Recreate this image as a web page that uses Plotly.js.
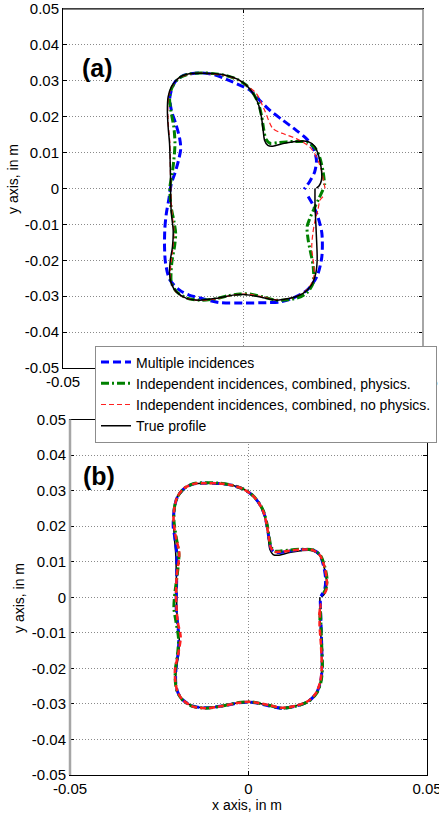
<!DOCTYPE html>
<html>
<head>
<meta charset="utf-8">
<script src="https://cdn.plot.ly/plotly-3.0.1.min.js"></script>
<style>html,body{margin:0;padding:0;background:#fff;}#chart{width:439px;height:814px;}</style>
</head>
<body>
<div id="chart"></div>
<script>
// ---------- data (metres) ----------
const seriesNames = ['Multiple incidences', 'Independent incidences, combined, physics.', 'Independent incidences, combined, no physics.', 'True profile'];
const yTickVals = [-0.05, -0.04, -0.03, -0.02, -0.01, 0, 0.01, 0.02, 0.03, 0.04, 0.05];
const yTickText = ['-0.05', '-0.04', '-0.03', '-0.02', '-0.01', '0', '0.01', '0.02', '0.03', '0.04', '0.05'];
const xTickVals = [-0.05, 0, 0.05];
const xTickText = ['-0.05', '0', '0.05'];
const panelLabels = ['(a)', '(b)'];

const trueProfile = [
  [0.0200,0.0000],[0.0200,-0.0040],[0.0201,-0.0070],[0.0204,-0.0135],[0.0206,-0.0200],[0.0202,-0.0237],
  [0.0190,-0.0269],[0.0167,-0.0292],[0.0130,-0.0306],[0.0093,-0.0311],[0.0056,-0.0304],[0.0019,-0.0297],
  [0.0000,-0.0295],[-0.0028,-0.0297],[-0.0074,-0.0306],[-0.0120,-0.0311],[-0.0157,-0.0306],[-0.0185,-0.0288],
  [-0.0199,-0.0265],[-0.0204,-0.0237],[-0.0202,-0.0200],[-0.0196,-0.0163],[-0.0194,-0.0116],[-0.0199,-0.0070],
  [-0.0201,-0.0023],[-0.0201,0.0014],[-0.0202,0.0060],[-0.0204,0.0125],[-0.0208,0.0172],[-0.0210,0.0218],
  [-0.0208,0.0255],[-0.0199,0.0283],[-0.0180,0.0307],[-0.0153,0.0319],[-0.0120,0.0321],[-0.0083,0.0320],
  [-0.0046,0.0315],[-0.0014,0.0304],[0.0009,0.0288],[0.0028,0.0265],[0.0042,0.0237],[0.0051,0.0200],
  [0.0056,0.0162],[0.0060,0.0134],[0.0069,0.0120],[0.0083,0.0118],[0.0111,0.0125],[0.0148,0.0131],
  [0.0180,0.0131],[0.0199,0.0118],[0.0211,0.0088],[0.0218,0.0051],[0.0218,0.0023],[0.0211,0.0007],[0.0204,0.0001]
];

// panel (a)
const multiA = [
  [0.0181,-0.0022],[0.0194,-0.0045],[0.0208,-0.0079],[0.0219,-0.0124],[0.0219,-0.0190],[0.0205,-0.0246],
  [0.0178,-0.0283],[0.0139,-0.0305],[0.0103,-0.0316],[0.0066,-0.0318],[0.0000,-0.0319],[-0.0064,-0.0318],
  [-0.0119,-0.0305],[-0.0150,-0.0297],[-0.0176,-0.0283],[-0.0203,-0.0255],[-0.0215,-0.0209],[-0.0218,-0.0162],
  [-0.0217,-0.0110],[-0.0213,-0.0070],[-0.0206,-0.0030],[-0.0199,0.0014],[-0.0190,0.0040],[-0.0180,0.0075],
  [-0.0173,0.0110],[-0.0176,0.0140],[-0.0186,0.0178],[-0.0199,0.0218],[-0.0203,0.0255],[-0.0190,0.0295],
  [-0.0165,0.0315],[-0.0120,0.0322],[-0.0080,0.0317],[-0.0046,0.0304],[-0.0009,0.0288],[0.0019,0.0274],
  [0.0046,0.0246],[0.0074,0.0218],[0.0111,0.0190],[0.0148,0.0162],[0.0176,0.0139],[0.0194,0.0116],
  [0.0204,0.0079],[0.0199,0.0046],[0.0185,0.0019],[0.0170,-0.0002]
];
const physA = [
  [0.0222,-0.0004],[0.0210,-0.0030],[0.0200,-0.0051],[0.0185,-0.0085],[0.0178,-0.0107],[0.0181,-0.0143],
  [0.0195,-0.0218],[0.0195,-0.0263],[0.0180,-0.0288],[0.0160,-0.0302],[0.0125,-0.0310],[0.0093,-0.0311],
  [0.0056,-0.0302],[0.0019,-0.0294],[-0.0008,-0.0294],[-0.0040,-0.0298],[-0.0074,-0.0307],[-0.0120,-0.0311],
  [-0.0157,-0.0305],[-0.0185,-0.0287],[-0.0199,-0.0262],[-0.0200,-0.0237],[-0.0197,-0.0200],[-0.0190,-0.0160],
  [-0.0187,-0.0125],[-0.0192,-0.0090],[-0.0200,-0.0050],[-0.0203,0.0004],[-0.0197,0.0040],[-0.0192,0.0080],
  [-0.0189,0.0126],[-0.0192,0.0170],[-0.0200,0.0215],[-0.0204,0.0255],[-0.0196,0.0284],[-0.0178,0.0307],
  [-0.0150,0.0319],[-0.0118,0.0322],[-0.0082,0.0320],[-0.0046,0.0314],[-0.0014,0.0303],[0.0010,0.0287],
  [0.0029,0.0264],[0.0043,0.0236],[0.0052,0.0200],[0.0058,0.0162],[0.0064,0.0137],[0.0075,0.0126],
  [0.0100,0.0128],[0.0140,0.0131],[0.0178,0.0129],[0.0200,0.0113],[0.0212,0.0090],[0.0222,0.0050],[0.0227,0.0010]
];
const noPhysA = [
  [0.0222,-0.0023],[0.0214,-0.0032],[0.0208,-0.0060],[0.0200,-0.0090],[0.0194,-0.0125],[0.0191,-0.0165],
  [0.0196,-0.0209],[0.0198,-0.0240],[0.0188,-0.0268],[0.0166,-0.0292],[0.0130,-0.0306],[0.0093,-0.0310],
  [0.0056,-0.0302],[0.0019,-0.0295],[0.0000,-0.0294],[-0.0028,-0.0297],[-0.0074,-0.0307],[-0.0120,-0.0312],
  [-0.0157,-0.0306],[-0.0185,-0.0289],[-0.0199,-0.0264],[-0.0202,-0.0237],[-0.0199,-0.0200],[-0.0194,-0.0160],
  [-0.0192,-0.0116],[-0.0197,-0.0070],[-0.0200,-0.0023],[-0.0201,0.0014],[-0.0202,0.0060],[-0.0203,0.0125],
  [-0.0207,0.0172],[-0.0209,0.0218],[-0.0207,0.0255],[-0.0198,0.0283],[-0.0180,0.0306],[-0.0153,0.0318],
  [-0.0120,0.0321],[-0.0083,0.0319],[-0.0046,0.0314],[-0.0014,0.0303],[0.0010,0.0287],[0.0037,0.0265],
  [0.0060,0.0218],[0.0083,0.0167],[0.0111,0.0153],[0.0148,0.0139],[0.0185,0.0116],[0.0204,0.0088],
  [0.0218,0.0050],[0.0225,0.0015],[0.0228,0.0000]
];

// panel (b)
const multiB = [
  [0.0201,-0.0010],[0.0202,-0.0040],[0.0203,-0.0070],[0.0205,-0.0135],[0.0206,-0.0200],[0.0202,-0.0237],
  [0.0190,-0.0270],[0.0167,-0.0293],[0.0130,-0.0307],[0.0093,-0.0312],[0.0056,-0.0305],[0.0019,-0.0297],
  [0.0000,-0.0295],[-0.0028,-0.0297],[-0.0074,-0.0306],[-0.0120,-0.0311],[-0.0157,-0.0306],[-0.0185,-0.0288],
  [-0.0199,-0.0265],[-0.0204,-0.0237],[-0.0203,-0.0200],[-0.0198,-0.0163],[-0.0195,-0.0116],[-0.0199,-0.0070],
  [-0.0203,-0.0023],[-0.0202,0.0014],[-0.0201,0.0060],[-0.0201,0.0125],[-0.0207,0.0172],[-0.0211,0.0200],
  [-0.0207,0.0255],[-0.0198,0.0284],[-0.0179,0.0307],[-0.0153,0.0319],[-0.0120,0.0321],[-0.0083,0.0320],
  [-0.0046,0.0315],[-0.0014,0.0304],[0.0010,0.0288],[0.0029,0.0265],[0.0043,0.0237],[0.0052,0.0200],
  [0.0058,0.0162],[0.0063,0.0138],[0.0072,0.0127],[0.0088,0.0126],[0.0115,0.0130],[0.0150,0.0134],
  [0.0180,0.0133],[0.0199,0.0120],[0.0210,0.0090],[0.0216,0.0052],[0.0214,0.0025],[0.0207,0.0010],[0.0203,0.0003]
];
const physB = [
  [0.0200,-0.0065],[0.0201,-0.0030],[0.0203,-0.0080],[0.0205,-0.0135],[0.0207,-0.0200],[0.0203,-0.0238],
  [0.0191,-0.0270],[0.0168,-0.0293],[0.0131,-0.0307],[0.0093,-0.0312],[0.0056,-0.0304],[0.0019,-0.0296],
  [0.0000,-0.0294],[-0.0028,-0.0296],[-0.0074,-0.0306],[-0.0120,-0.0312],[-0.0157,-0.0307],[-0.0185,-0.0289],
  [-0.0200,-0.0265],[-0.0205,-0.0237],[-0.0205,-0.0205],[-0.0199,-0.0163],[-0.0196,-0.0116],[-0.0203,-0.0070],
  [-0.0209,-0.0030],[-0.0206,0.0014],[-0.0200,0.0060],[-0.0195,0.0120],[-0.0203,0.0172],[-0.0209,0.0218],
  [-0.0207,0.0255],[-0.0198,0.0284],[-0.0179,0.0307],[-0.0152,0.0320],[-0.0120,0.0322],[-0.0083,0.0321],
  [-0.0046,0.0315],[-0.0014,0.0304],[0.0010,0.0288],[0.0030,0.0265],[0.0044,0.0237],[0.0053,0.0200],
  [0.0059,0.0162],[0.0064,0.0140],[0.0074,0.0130],[0.0090,0.0130],[0.0115,0.0133],[0.0150,0.0135],
  [0.0181,0.0133],[0.0201,0.0119],[0.0213,0.0088],[0.0220,0.0051],[0.0217,0.0025],[0.0210,0.0011]
];
const noPhysB = [
  [0.0198,-0.0050],[0.0202,-0.0020],[0.0199,-0.0075],[0.0203,-0.0135],[0.0205,-0.0200],[0.0201,-0.0237],
  [0.0190,-0.0268],[0.0167,-0.0292],[0.0130,-0.0306],[0.0093,-0.0311],[0.0056,-0.0303],[0.0019,-0.0296],
  [0.0000,-0.0294],[-0.0028,-0.0297],[-0.0074,-0.0306],[-0.0120,-0.0312],[-0.0157,-0.0307],[-0.0185,-0.0288],
  [-0.0199,-0.0265],[-0.0205,-0.0237],[-0.0206,-0.0205],[-0.0197,-0.0160],[-0.0190,-0.0112],[-0.0198,-0.0070],
  [-0.0202,-0.0023],[-0.0203,0.0014],[-0.0201,0.0060],[-0.0194,0.0124],[-0.0204,0.0172],[-0.0210,0.0218],
  [-0.0207,0.0255],[-0.0199,0.0283],[-0.0180,0.0307],[-0.0153,0.0319],[-0.0120,0.0321],[-0.0083,0.0320],
  [-0.0046,0.0315],[-0.0014,0.0304],[0.0010,0.0288],[0.0029,0.0265],[0.0043,0.0237],[0.0052,0.0200],
  [0.0058,0.0162],[0.0063,0.0138],[0.0073,0.0128],[0.0090,0.0128],[0.0115,0.0131],[0.0150,0.0134],
  [0.0181,0.0132],[0.0200,0.0118],[0.0212,0.0089],[0.0219,0.0052],[0.0219,0.0024],[0.0212,0.0008]
];

// ---------- styles ----------
const FONT = 'Liberation Sans, Arial, sans-serif';
const styles = [
  {color: '#0000ff', width: 3, dash: '8px,4px'},
  {color: '#008000', width: 3, dash: '8px,3px,2px,3px'},
  {color: '#ff2020', width: 1.2, dash: '5px,3px'},
  {color: '#000000', width: 1.5, dash: 'solid'}
];
const stylesB = [
  {color: '#0000ff', width: 3, dash: '8px,4px'},
  {color: '#008000', width: 3, dash: '8px,3px,2px,3px'},
  {color: '#ff2020', width: 2.5, dash: '6px,3px'},
  {color: '#000000', width: 1.5, dash: 'solid'}
];

function tr(pts, i, st, xa, ya, showLeg) {
  return {
    type: 'scatter', mode: 'lines',
    x: pts.map(p => p[0]), y: pts.map(p => p[1]),
    xaxis: xa, yaxis: ya,
    name: seriesNames[i], showlegend: showLeg, legendrank: i + 1,
    line: {color: st[i].color, width: st[i].width, dash: st[i].dash, shape: 'spline', smoothing: 0.8},
    hoverinfo: 'skip'
  };
}

const data = [
  tr(multiA, 0, styles, 'x', 'y', true),
  tr(physA, 1, styles, 'x', 'y', true),
  tr(noPhysA, 2, styles, 'x', 'y', true),
  tr(trueProfile, 3, styles, 'x', 'y', true),
  tr(trueProfile, 3, stylesB, 'x2', 'y2', false),
  tr(multiB, 0, stylesB, 'x2', 'y2', false),
  tr(physB, 1, stylesB, 'x2', 'y2', false),
  tr(noPhysB, 2, stylesB, 'x2', 'y2', false)
];

const W = 439, H = 814;
function axisBase(extra) {
  return Object.assign({
    range: [-0.05, 0.05], autorange: false, fixedrange: true,
    ticks: 'inside', ticklen: 4, tickwidth: 1, tickcolor: '#000',
    showline: true, linecolor: '#000', linewidth: 1, mirror: 'ticks',
    showgrid: true, gridcolor: '#8a8a8a', gridwidth: 1, griddash: '1px,2px',
    zeroline: false,
    tickfont: {family: FONT, size: 15, color: '#000'},
    ticklabeloverflow: 'allow',
    tickmode: 'array'
  }, extra);
}

const topX = [63 / W, 423 / W], topY = [1 - 368 / H, 1 - 9 / H];
const botX = [70 / W, 427 / W], botY = [1 - 775 / H, 1 - 419.5 / H];

const layout = {
  width: W, height: H,
  margin: {l: 0, r: 0, t: 0, b: 0, pad: 0},
  paper_bgcolor: '#fff', plot_bgcolor: '#fff',
  font: {family: FONT, color: '#000'},
  xaxis: axisBase({domain: topX, anchor: 'y', tickvals: xTickVals, ticktext: xTickText}),
  yaxis: axisBase({domain: topY, anchor: 'x', tickvals: yTickVals, ticktext: yTickText}),
  xaxis2: axisBase({domain: botX, anchor: 'y2', tickvals: xTickVals, ticktext: xTickText}),
  yaxis2: axisBase({domain: botY, anchor: 'x2', tickvals: yTickVals, ticktext: yTickText}),
  showlegend: true,
  legend: {
    x: 95 / W, y: 1 - 394 / H, xanchor: 'left', yanchor: 'middle',
    bgcolor: '#fff', bordercolor: '#8c8c8c', borderwidth: 1,
    font: {family: FONT, size: 14, color: '#000'},
    tracegroupgap: 0, itemwidth: 30
  },
  shapes: [
    {type: 'line', xref: 'x domain', yref: 'y domain', x0: 1, x1: 1, y0: 0, y1: 1, line: {color: '#a6a6a6', width: 2}},
    {type: 'line', xref: 'x domain', yref: 'y domain', x0: 0, x1: 1, y0: 1, y1: 1, line: {color: '#555', width: 1.3}},
    {type: 'line', xref: 'x2 domain', yref: 'y2 domain', x0: 0, x1: 0, y0: 0, y1: 1, line: {color: '#a6a6a6', width: 2.5}}
  ],
  annotations: [
    {text: panelLabels[0], xref: 'paper', yref: 'paper', x: 97 / W, y: 1 - 68 / H, showarrow: false,
     font: {family: FONT, size: 25, color: '#000', weight: 'bold'}, xanchor: 'center', yanchor: 'middle'},
    {text: panelLabels[1], xref: 'paper', yref: 'paper', x: 99 / W, y: 1 - 476 / H, showarrow: false,
     font: {family: FONT, size: 25, color: '#000', weight: 'bold'}, xanchor: 'center', yanchor: 'middle'},
    {text: 'y axis, in m', xref: 'paper', yref: 'paper', x: 13 / W, y: 1 - 179 / H, textangle: -90, showarrow: false,
     font: {family: FONT, size: 14, color: '#000'}, xanchor: 'center', yanchor: 'middle'},
    {text: 'y axis, in m', xref: 'paper', yref: 'paper', x: 19 / W, y: 1 - 598 / H, textangle: -90, showarrow: false,
     font: {family: FONT, size: 14, color: '#000'}, xanchor: 'center', yanchor: 'middle'},
    {text: 'x axis, in m', xref: 'paper', yref: 'paper', x: 247 / W, y: 1 - 805 / H, showarrow: false,
     font: {family: FONT, size: 14, color: '#000'}, xanchor: 'center', yanchor: 'middle'}
  ]
};

Plotly.newPlot('chart', data, layout, {displayModeBar: false, staticPlot: true});
</script>
</body>
</html>
